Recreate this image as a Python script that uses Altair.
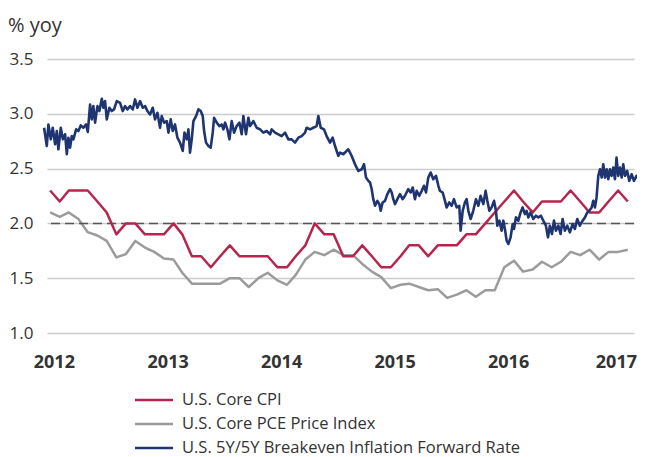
import altair as alt
import pandas as pd

# ---------------- data ----------------
series_names = ["U.S. Core CPI", "U.S. Core PCE Price Index",
                "U.S. 5Y/5Y Breakeven Inflation Forward Rate"]
series_colors = ["#B8254C", "#9B9B9B", "#1F3571"]
legend_rank = [0, 1, 2]

# monthly, Jan 2012 .. Feb 2017
core_cpi = [2.3, 2.2, 2.3, 2.3, 2.3, 2.2, 2.1, 1.9, 2.0, 2.0, 1.9, 1.9,
            1.9, 2.0, 1.9, 1.7, 1.7, 1.6, 1.7, 1.8, 1.7, 1.7, 1.7, 1.7,
            1.6, 1.6, 1.7, 1.8, 2.0, 1.9, 1.9, 1.7, 1.7, 1.8, 1.7, 1.6,
            1.6, 1.7, 1.8, 1.8, 1.7, 1.8, 1.8, 1.8, 1.9, 1.9, 2.0, 2.1,
            2.2, 2.3, 2.2, 2.1, 2.2, 2.2, 2.2, 2.3, 2.2, 2.1, 2.1, 2.2,
            2.3, 2.2]
core_pce = [2.10, 2.06, 2.10, 2.04, 1.92, 1.89, 1.84, 1.69, 1.72, 1.84, 1.78, 1.74,
            1.68, 1.67, 1.55, 1.45, 1.45, 1.45, 1.45, 1.50, 1.50, 1.42, 1.50, 1.55,
            1.48, 1.44, 1.53, 1.67, 1.74, 1.71, 1.76, 1.71, 1.71, 1.63, 1.56, 1.51,
            1.41, 1.44, 1.45, 1.42, 1.39, 1.40, 1.32, 1.35, 1.39, 1.33, 1.39, 1.39,
            1.60, 1.66, 1.56, 1.58, 1.65, 1.60, 1.65, 1.74, 1.71, 1.76, 1.67, 1.74,
            1.74, 1.76]

# 5Y/5Y breakeven (decimal year, %)
be_year = [2011.947, 2011.971, 2011.985, 2012.006, 2012.023, 2012.044, 2012.059, 2012.073,
           2012.094, 2012.112, 2012.132, 2012.147, 2012.161, 2012.176, 2012.191, 2012.205,
           2012.229, 2012.249, 2012.270, 2012.293, 2012.317, 2012.332, 2012.352, 2012.367,
           2012.381, 2012.396, 2012.417, 2012.434, 2012.455, 2012.469, 2012.484, 2012.499,
           2012.522, 2012.543, 2012.563, 2012.587, 2012.616, 2012.640, 2012.660, 2012.681,
           2012.704, 2012.728, 2012.748, 2012.769, 2012.792, 2012.816, 2012.836, 2012.857,
           2012.880, 2012.904, 2012.924, 2012.945, 2012.968, 2012.983, 2013.004, 2013.027,
           2013.042, 2013.062, 2013.080, 2013.100, 2013.121, 2013.144, 2013.168, 2013.183,
           2013.203, 2013.218, 2013.232, 2013.247, 2013.262, 2013.285, 2013.306, 2013.326,
           2013.344, 2013.356, 2013.373, 2013.394, 2013.414, 2013.432, 2013.444, 2013.467,
           2013.491, 2013.511, 2013.526, 2013.541, 2013.561, 2013.579, 2013.599, 2013.620,
           2013.643, 2013.667, 2013.687, 2013.702, 2013.725, 2013.746, 2013.761, 2013.790,
           2013.819, 2013.849, 2013.878, 2013.907, 2013.937, 2013.951, 2013.981, 2014.010,
           2014.039, 2014.069, 2014.098, 2014.127, 2014.157, 2014.186, 2014.215, 2014.245,
           2014.259, 2014.289, 2014.318, 2014.347, 2014.362, 2014.383, 2014.412, 2014.435,
           2014.465, 2014.488, 2014.509, 2014.538, 2014.553, 2014.582, 2014.611, 2014.626,
           2014.656, 2014.685, 2014.714, 2014.744, 2014.764, 2014.782, 2014.802, 2014.817,
           2014.832, 2014.846, 2014.861, 2014.882, 2014.899, 2014.911, 2014.928, 2014.949,
           2014.970, 2014.993, 2015.008, 2015.022, 2015.037, 2015.058, 2015.081, 2015.104,
           2015.125, 2015.154, 2015.175, 2015.193, 2015.213, 2015.228, 2015.251, 2015.272,
           2015.292, 2015.310, 2015.330, 2015.351, 2015.374, 2015.398, 2015.419, 2015.433,
           2015.457, 2015.477, 2015.492, 2015.515, 2015.536, 2015.556, 2015.580, 2015.603,
           2015.615, 2015.633, 2015.653, 2015.668, 2015.683, 2015.703, 2015.726, 2015.750,
           2015.771, 2015.791, 2015.815, 2015.835, 2015.850, 2015.868, 2015.888, 2015.909,
           2015.926, 2015.938, 2015.956, 2015.976, 2015.991, 2016.005, 2016.020, 2016.035,
           2016.055, 2016.073, 2016.085, 2016.102, 2016.123, 2016.143, 2016.161, 2016.181,
           2016.196, 2016.211, 2016.231, 2016.255, 2016.278, 2016.299, 2016.322, 2016.343,
           2016.366, 2016.384, 2016.401, 2016.419, 2016.437, 2016.454, 2016.475, 2016.495,
           2016.513, 2016.533, 2016.554, 2016.577, 2016.601, 2016.621, 2016.642, 2016.665,
           2016.689, 2016.710, 2016.730, 2016.748, 2016.769, 2016.783, 2016.798, 2016.812,
           2016.827, 2016.842, 2016.857, 2016.871, 2016.886, 2016.901, 2016.915, 2016.930,
           2016.945, 2016.959, 2016.974, 2016.988, 2017.003, 2017.018, 2017.033, 2017.047,
           2017.062, 2017.082, 2017.100, 2017.121, 2017.141, 2017.164, 2017.188, 2017.209,
           2017.229, 2017.238]
be_val = [2.873, 2.706, 2.903, 2.767, 2.873, 2.722, 2.843, 2.676,
          2.873, 2.767, 2.813, 2.631, 2.782, 2.691, 2.797, 2.767,
          2.858, 2.843, 2.894, 2.873, 2.903, 2.834, 3.085, 2.949,
          3.070, 2.919, 3.070, 3.025, 3.137, 3.055, 3.116, 2.949,
          3.055, 3.025, 3.040, 3.116, 3.100, 3.025, 3.070, 3.040,
          3.070, 3.040, 3.131, 3.055, 3.116, 3.055, 3.070, 3.025,
          2.994, 3.055, 2.949, 3.009, 2.873, 2.979, 2.919, 2.934,
          2.828, 2.949, 2.843, 2.903, 2.782, 2.737, 2.661, 2.828,
          2.767, 2.858, 2.646, 2.767, 2.934, 2.979, 3.040, 3.025,
          2.979, 2.843, 2.737, 2.706, 2.691, 2.828, 2.964, 2.919,
          2.888, 2.903, 2.858, 2.919, 2.858, 2.767, 2.934, 2.828,
          2.888, 2.919, 2.813, 2.979, 2.813, 2.964, 2.888, 2.934,
          2.873, 2.858, 2.828, 2.843, 2.813, 2.858, 2.828, 2.813,
          2.797, 2.828, 2.767, 2.767, 2.737, 2.782, 2.797, 2.828,
          2.873, 2.858, 2.873, 2.888, 2.979, 2.873, 2.858, 2.797,
          2.737, 2.782, 2.706, 2.616, 2.646, 2.631, 2.661, 2.676,
          2.615, 2.540, 2.479, 2.494, 2.540, 2.418, 2.388, 2.373,
          2.312, 2.221, 2.161, 2.206, 2.176, 2.115, 2.191, 2.206,
          2.267, 2.312, 2.282, 2.221, 2.176, 2.221, 2.267, 2.221,
          2.252, 2.312, 2.282, 2.327, 2.221, 2.297, 2.252, 2.297,
          2.343, 2.282, 2.418, 2.464, 2.403, 2.434, 2.343, 2.297,
          2.282, 2.206, 2.146, 2.191, 2.161, 2.221, 2.146, 2.161,
          1.934, 2.115, 2.191, 2.221, 2.115, 2.040, 2.115, 2.221,
          2.161, 2.252, 2.176, 2.297, 2.206, 2.115, 2.146, 2.206,
          2.115, 1.979, 2.025, 1.934, 2.025, 1.949, 1.843, 1.812,
          1.873, 1.994, 1.949, 2.055, 2.025, 2.100, 2.146, 2.085,
          2.115, 2.055, 2.100, 2.040, 2.070, 2.055, 2.070, 2.025,
          1.979, 1.873, 1.979, 1.903, 2.025, 1.934, 1.979, 1.903,
          2.040, 1.934, 1.979, 1.918, 1.994, 1.949, 2.040, 1.979,
          2.025, 2.055, 2.100, 2.115, 2.146, 2.206, 2.146, 2.237,
          2.434, 2.494, 2.418, 2.540, 2.418, 2.494, 2.403, 2.494,
          2.434, 2.509, 2.403, 2.600, 2.434, 2.509, 2.418, 2.540,
          2.434, 2.479, 2.388, 2.449, 2.388, 2.434, 2.403, 2.509,
          2.388, 2.418]

year_ticks = [2012, 2013, 2014, 2015, 2016, 2017]
y_ticks = [1.0, 1.5, 2.0, 2.5, 3.0, 3.5]
target_line = [2.0]

# ---------------- tables ----------------
months = pd.date_range("2012-01-01", periods=len(core_cpi), freq="MS")
df_cpi = pd.DataFrame({"date": months, "value": core_cpi, "series": series_names[0]})
df_pce = pd.DataFrame({"date": months, "value": core_pce, "series": series_names[1]})
be_dates = pd.Timestamp("2012-01-01") + pd.to_timedelta(
    [(y - 2012.0) * 365.25 for y in be_year], unit="D")
df_be = pd.DataFrame({"date": be_dates, "value": be_val, "series": series_names[2]})
df_ref = pd.DataFrame({"value": target_line})
df_leg = pd.DataFrame({"series": series_names, "rank": legend_rank})

FONT = "Open Sans"
TXT = "#333333"

x_enc = alt.X(
    "date:T",
    scale=alt.Scale(domain=[alt.DateTime(year=2011, month=12, date=22),
                            alt.DateTime(year=2017, month=2, date=21)]),
    axis=alt.Axis(values=[alt.DateTime(year=y, month=1, date=13) for y in year_ticks],
                  format="%Y", title=None, grid=False, domain=False, ticks=False,
                  labelFont=FONT, labelFontSize=18, labelFontWeight="bold",
                  labelColor=TXT, labelPadding=20,
                  labelOffset=alt.condition("year(datum.value) >= 2017",
                                            alt.value(-6), alt.value(0))),
)
y_enc = alt.Y(
    "value:Q",
    scale=alt.Scale(domain=[1.0, 3.5], nice=False, zero=False),
    axis=alt.Axis(values=y_ticks, format=".1f", title=None, domain=False, ticks=False,
                  grid=True, gridColor="#CCCCCC", gridWidth=1.5,
                  labelFont=FONT, labelFontSize=17, labelColor=TXT,
                  labelPadding=14, minExtent=39, maxExtent=39),
)
color_enc = alt.Color(
    "series:N",
    scale=alt.Scale(domain=series_names, range=series_colors),
    legend=None,
)

ref = alt.Chart(df_ref).mark_rule(color="#555555", strokeWidth=1.5,
                                  strokeDash=[9, 5]).encode(y=alt.Y("value:Q"))

def line(df, width):
    return alt.Chart(df).mark_line(strokeWidth=width, strokeJoin="round").encode(
        x=x_enc, y=y_enc, color=color_enc)

main = alt.layer(
    line(df_pce, 2.5),
    ref,
    line(df_cpi, 2.5),
    line(df_be, 2.6),
)

# legend below the plot (rows placed by their own y scale)
leg_y = alt.Y("rank:Q", scale=alt.Scale(domain=[0, 2], range=[341, 389]), axis=None)
leg_lines = alt.Chart(df_leg).mark_rule(strokeWidth=2.5).encode(
    x=alt.value(88), x2=alt.value(126), y=leg_y, color=color_enc)
leg_text = alt.Chart(df_leg).mark_text(
    align="left", baseline="middle", font=FONT, fontSize=16.5, color=TXT
).encode(x=alt.value(135), y=leg_y, text="series:N")
legend = alt.layer(leg_lines, leg_text)

chart = alt.layer(main, legend).resolve_scale(y="independent").properties(
    width=587, height=274,
    autosize=alt.AutoSizeParams(type="none"),
    padding={"left": 39, "top": 51, "right": 3, "bottom": 125},
    title=alt.TitleParams("% yoy", anchor="start", frame="bounds", font=FONT,
                          fontSize=20, fontWeight="normal", color=TXT, offset=14),
).configure_view(stroke=None)

chart.save("out.html", embed_options={"renderer": "svg", "actions": False})
